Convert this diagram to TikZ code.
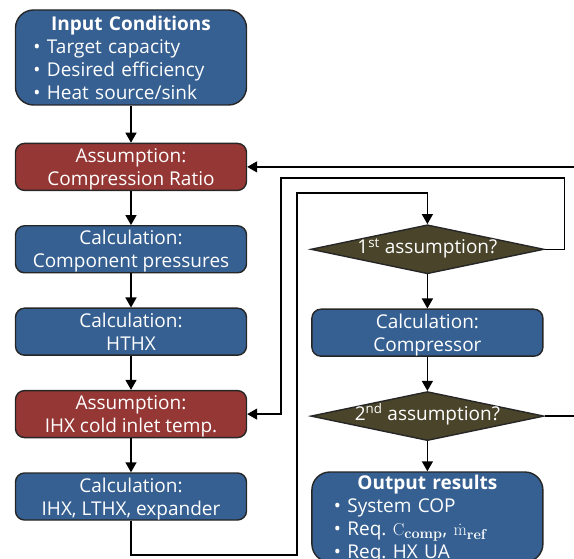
\documentclass[tikz,border=0pt]{standalone}
\usepackage[no-math]{fontspec}
\setmainfont{Open Sans}
\usepackage{amsmath}
\usepackage{tikz}
\usetikzlibrary{positioning}
\usetikzlibrary{shapes.geometric, arrows.meta}
\definecolor{calcblue}{HTML}{366092}
\definecolor{assumred}{HTML}{953735}
\definecolor{decolive}{HTML}{4A452A}
\tikzstyle{arrow} = [line width=1.4pt,-{Triangle[length=10pt,width=11pt]}]
\tikzstyle{calc} = [rectangle, rounded corners=9pt, draw=black!85, line width=1.4pt, fill=calcblue, text=white, minimum width=231pt, minimum height=47pt, inner ysep=1pt, text height=37pt, text depth=0pt, align=center, font=\fontsize{19}{23}\selectfont]
\tikzstyle{assum} = [calc, fill=assumred]
\tikzstyle{decide} = [diamond, aspect=4.75, draw=black!85, line width=1.4pt, fill=decolive, text=white, minimum width=233pt, minimum height=49pt, inner sep=0pt, text height=8pt, text depth=0pt, font=\fontsize{19}{23}\selectfont]
\tikzstyle{listbox} = [calc, rounded corners=18pt, align=left, inner xsep=18pt, text width=195pt, text height=14.5pt, text depth=69pt]

\begin{document}
\begin{tikzpicture}
	\useasboundingbox (0,0) rectangle (574pt,-559pt);

	%Nodes
	\node [listbox, minimum height=95pt] (input) at (131pt,-57.5pt) {\makebox[\linewidth]{\textbf{Input Conditions}}\\ \textbullet\ Target capacity\\ \textbullet\ Desired efficiency\\ \textbullet\ Heat source/sink};
	\node [assum, below=37pt of input] (asmCR) {Assumption:\\ Compression Ratio};
	\node [calc, below=34pt of asmCR] (cmpP) {Calculation:\\ Component pressures};
	\node [calc, below=34pt of cmpP] (hthx) {Calculation:\\ HTHX};
	\node [assum, below=34pt of hthx] (asmIHX) {Assumption:\\ IHX cold inlet temp.};
	\node [calc, below=34pt of asmIHX] (calcIHX) {Calculation:\\ IHX, LTHX, expander};

	\node [decide, right=63pt of cmpP] (dia1) {1\textsuperscript{st} assumption?};
	\node [calc, below=34pt of dia1] (comp) {Calculation:\\ Compressor};
	\node [decide, below=34pt of comp] (dia2) {2\textsuperscript{nd} assumption?};
	\node [listbox, minimum height=90pt, inner xsep=22pt, text width=187pt, below=30pt of dia2] (output) {\makebox[\linewidth]{\textbf{Output results}}\\ \textbullet\ System COP\\ \textbullet\ Req.\ $\mathrm{C}_{\mathbf{comp}}$, $\dot{\mathrm{m}}_{\mathbf{ref}}$\\ \textbullet\ Req.\ HX UA};

	\coordinate (retB) at (297pt,-555pt);
	\coordinate (retT) at (297pt,-193pt);
	\coordinate (chkL) at (281pt,-178pt);

	%Lines
	\draw[arrow] (input) -- (asmCR);
	\draw[arrow] (asmCR) -- (cmpP);
	\draw[arrow] (cmpP) -- (hthx);
	\draw[arrow] (hthx) -- (asmIHX);
	\draw[arrow] (asmIHX) -- (calcIHX);
	\draw[arrow] (dia1) -- (comp);
	\draw[arrow] (comp) -- (dia2);
	\draw[arrow] (dia2) -- (output);

	\draw[arrow] (calcIHX.south) |- (retB) -- (retT) -| (dia1.north);
	\draw[arrow] (dia1.east) -- ++(20pt,0) |- (chkL) |- (asmIHX.east);
	\draw[arrow] (dia2.east) -- ++(40pt,0) |- (asmCR.east);

\end{tikzpicture}
\end{document}
